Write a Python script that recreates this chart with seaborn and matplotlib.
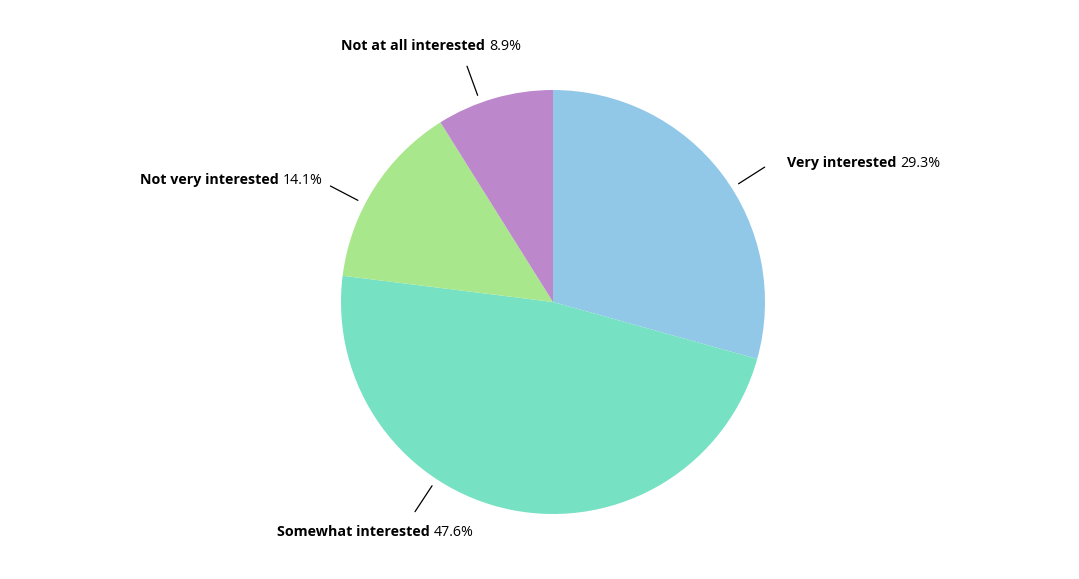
import numpy as np
import matplotlib
matplotlib.use('Agg')
import matplotlib.pyplot as plt
import seaborn as sns
from matplotlib.offsetbox import TextArea, HPacker, AnnotationBbox

categories = ['Very interested', 'Somewhat interested', 'Not very interested', 'Not at all interested']
shares = [29.3, 47.6, 14.1, 8.9]
colors = ['#91c8e8', '#76e1c3', '#a8e78b', '#bd87cb']

# ── Layout (pixel-like data coords, y up) ──────────────────────────────
W, H = 1079, 579
CX, CY, R = 553, H - 302, 212
label_shift = [4.7, 22, -5, -4]     # nudge of leader line from slice mid-angle (deg)
line_r0, line_r1 = R + 8, R + 39
# (dx, dy, ha) of the label box from the leader line end
label_place = [(22, 4, 'left'),
               (-40, -21, 'center'),
               (-8, 6, 'right'),
               (-36, 20, 'center')]

sns.set_theme(style='white')
plt.rcParams['font.family'] = ['Open Sans', 'DejaVu Sans']

fig = plt.figure(figsize=(W / 100, H / 100), dpi=100)
ax = fig.add_axes([0, 0, 1, 1])

ax.pie(shares, colors=colors, startangle=90, counterclock=False,
       center=(CX, CY), radius=R, wedgeprops=dict(linewidth=0))
ax.set_xlim(0, W)
ax.set_ylim(0, H)
ax.set_aspect('equal')
ax.axis('off')

total = sum(shares)
cum = np.cumsum([0] + shares[:-1])
for i, (name, val) in enumerate(zip(categories, shares)):
    mid = (cum[i] + val / 2) / total * 360 + label_shift[i]
    a = np.deg2rad(mid)
    dx, dy = np.sin(a), np.cos(a)
    x0, y0 = CX + dx * line_r0, CY + dy * line_r0
    x1, y1 = CX + dx * line_r1, CY + dy * line_r1
    ax.plot([x0, x1], [y0, y1], color='black', lw=0.9)

    ox, oy, ha = label_place[i]
    box = HPacker(children=[
        TextArea(name, textprops=dict(fontsize=10.3, fontweight='bold', color='black')),
        TextArea(f'{val}%', textprops=dict(fontsize=10.3, color='black')),
    ], align='baseline', pad=0, sep=3)
    bx = {'left': 0.0, 'center': 0.5, 'right': 1.0}[ha]
    ab = AnnotationBbox(box, (x1 + ox, y1 + oy), xycoords='data',
                        box_alignment=(bx, 0.5), frameon=False, pad=0)
    ax.add_artist(ab)

fig.savefig('out.png', dpi=100)
